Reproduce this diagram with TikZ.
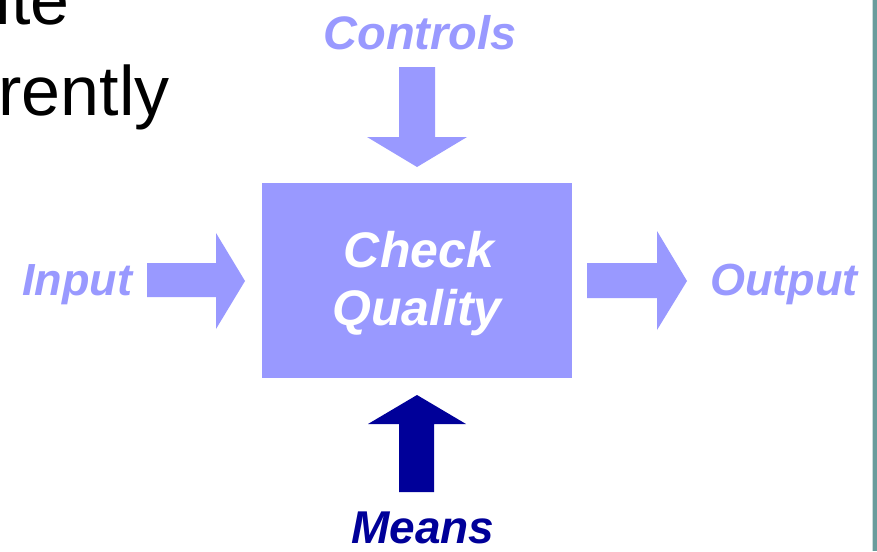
\documentclass[tikz,border=0pt]{standalone}
\usepackage{fontspec}
\setmainfont{Liberation Sans}
\definecolor{lightblue}{HTML}{9999FF}
\definecolor{navy}{HTML}{000099}
\definecolor{teal2}{HTML}{6A9C9C}
\begin{document}
\begin{tikzpicture}[x=1pt,y=-1pt,
  lbl/.style={inner sep=0pt, font=\fontsize{45}{54}\selectfont\bfseries\itshape},
  inbox/.style={inner sep=0pt, text=white, anchor=base, font=\fontsize{50}{60}\selectfont\bfseries\itshape},
  big/.style={inner sep=0pt, font=\fontsize{70}{84}\selectfont, text=black}]
\useasboundingbox (0,0) rectangle (877,551);
\fill[white] (0,0) rectangle (877,551);
% right border
\fill[teal2] (873,0) rectangle (877,551);
\fill[teal2!35] (872,0) rectangle (873,551);
% partial text at top left
\node[big, anchor=base east] (t1) at (70,25) {ite};
\node[big, anchor=base east] (t2) at (170,115) {rently};
% box
\node[fill=lightblue, minimum width=310pt, minimum height=195pt, inner sep=0pt, anchor=north west] (box) at (262,183) {};
\node[inbox] (check) at (419,267) {Check};
\node[inbox] (quality) at (417,325) {Quality};
% labels
\node[lbl, text=lightblue, anchor=base, font=\fontsize{47}{56}\selectfont\bfseries\itshape] (controls) at (420,49) {Controls};
\node[lbl, text=lightblue, anchor=base west] (input) at (22,295) {Input};
\node[lbl, text=lightblue, anchor=base west] (output) at (710,295) {Output};
\node[lbl, text=navy, anchor=base, font=\fontsize{46}{55}\selectfont\bfseries\itshape] (means) at (423,543) {Means};
% block arrows
\fill[lightblue] (399,67) -- (435,67) -- (435,137) -- (467,137) -- (417,167) -- (367,137) -- (399,137) -- cycle;
\fill[lightblue] (147,263) -- (216,263) -- (216,233) -- (245,281) -- (216,329) -- (216,297) -- (147,297) -- cycle;
\fill[lightblue] (587,263) -- (657,263) -- (657,231) -- (687,281) -- (657,330) -- (657,298) -- (587,298) -- cycle;
\fill[navy] (399,492) -- (434,492) -- (434,424) -- (466,424) -- (417,395) -- (368,424) -- (399,424) -- cycle;
\end{tikzpicture}
\end{document}
